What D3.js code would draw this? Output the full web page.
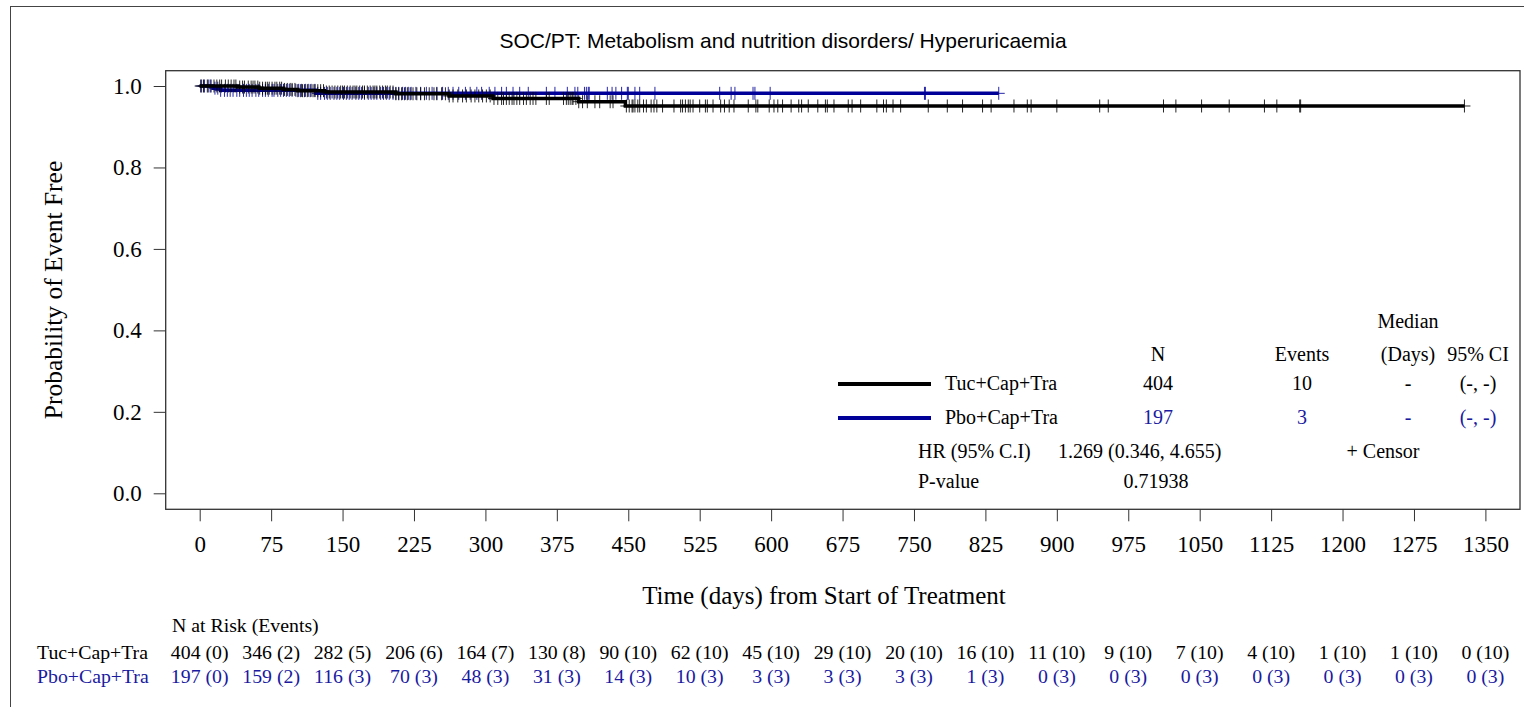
<!DOCTYPE html>
<html>
<head>
<meta charset="utf-8">
<script src="https://cdn.jsdelivr.net/npm/d3@7"></script>
<style>
  html, body { margin: 0; padding: 0; background: #fff; }
  svg { display: block; }
  .serif { font-family: "Liberation Serif", "Times New Roman", serif; }
</style>
</head>
<body>
<svg id="chart" width="1524" height="707"></svg>
<script>
// ---------------- DATA ----------------
const titleText = "SOC/PT: Metabolism and nutrition disorders/ Hyperuricaemia";
const groups = ["Tuc+Cap+Tra", "Pbo+Cap+Tra"];
const xTicks = [0, 75, 150, 225, 300, 375, 450, 525, 600, 675, 750, 825, 900, 975, 1050, 1125, 1200, 1275, 1350];
const yTicks = [0.0, 0.2, 0.4, 0.6, 0.8, 1.0];

// Kaplan-Meier step values
const tucEventDays = [40, 62, 88, 103, 131, 206, 262, 308, 398, 447];
const tucSurv      = [0.9974, 0.9946, 0.9916, 0.9885, 0.9852, 0.9809, 0.9756, 0.9695, 0.9614, 0.9509];
const tucLastDay   = 1328;

const pboEventDays = [14, 22, 122];
const pboSurv      = [0.9947, 0.9893, 0.9820];
const pboLastDay   = 839;

// censor times (estimated from the tick marks)
const tucCensorDays = [
  1, 4, 8, 11, 15, 18, 21, 23, 27, 30, 33, 36, 38, 42, 45, 47, 51, 54, 56, 58, 61, 63, 66, 69, 71, 73,
  76, 79, 81, 84, 86, 89, 92, 95, 97, 100, 103, 106, 108, 110, 113, 116, 119, 121, 124, 127, 130, 133, 136, 139, 142, 145, 148,
  150, 152, 155, 158, 161, 163, 165, 168, 171, 173, 176, 179, 182, 184, 186, 189, 192, 195, 197, 200, 203, 206, 209, 212, 215, 218, 221, 224,
  228, 232, 236, 241, 246, 249, 254, 258, 262, 266, 271, 276, 280, 285, 289, 293, 297,
  301, 305, 309, 313, 317, 319, 322, 325, 328, 330, 333, 336, 340, 343, 347, 350, 353, 364, 367,
  382, 385, 387, 389, 391, 392, 395, 398, 402, 407, 415, 420, 431, 434,
  448, 451, 454, 455, 457, 460, 462, 466, 469, 474, 477, 480, 486, 498, 505, 507, 510, 513, 515, 518,
  525, 531, 533, 539, 547, 551, 556, 561, 576, 584, 586, 598,
  603, 607, 612, 621, 629, 632, 639, 649, 657, 659, 666,
  681, 685, 694, 711, 718, 721, 728, 736,
  765, 785, 801, 822, 831, 855, 869, 873, 900, 945, 954, 1012, 1025, 1052, 1081, 1118, 1131, 1155, 1156, 1328
];
const pboCensorDays = [
  2, 5, 9, 12, 16, 19, 22, 26, 29, 32, 35, 39, 42, 46, 49, 52, 55, 59, 62, 66, 69, 72,
  76, 78, 82, 85, 88, 91, 94, 97, 101, 104, 107, 111, 114, 117, 121, 124, 127, 131, 134, 137, 141, 144, 147,
  151, 154, 157, 160, 164, 167, 170, 173, 177, 180, 183, 186, 190, 193, 196, 199, 203, 206, 209, 213, 216, 219, 222,
  227, 232, 238, 244, 249, 255, 261, 266, 272, 279, 284, 291, 296,
  304, 310, 317, 322, 329, 336, 345, 364, 373,
  386, 394, 397, 404, 406, 408, 409, 428, 433, 437, 443, 449,
  450, 457, 462, 478, 546, 558, 562, 581, 583, 599, 761, 762, 839
];

// Number at risk (events) table
const tucAtRisk = ["404 (0)", "346 (2)", "282 (5)", "206 (6)", "164 (7)", "130 (8)", "90 (10)", "62 (10)", "45 (10)", "29 (10)",
                   "20 (10)", "16 (10)", "11 (10)", "9 (10)", "7 (10)", "4 (10)", "1 (10)", "1 (10)", "0 (10)"];
const pboAtRisk = ["197 (0)", "159 (2)", "116 (3)", "70 (3)", "48 (3)", "31 (3)", "14 (3)", "10 (3)", "3 (3)", "3 (3)",
                   "3 (3)", "1 (3)", "0 (3)", "0 (3)", "0 (3)", "0 (3)", "0 (3)", "0 (3)", "0 (3)"];

// Legend / statistics table
const legendHeader1 = ["", "", "Median", ""];
const legendHeader2 = ["N", "Events", "(Days)", "95% CI"];
const tucStats = ["404", "10", "-", "(-, -)"];
const pboStats = ["197", "3", "-", "(-, -)"];
const hrLabel = "HR (95% C.I)";
const hrValue = "1.269 (0.346, 4.655)";
const pLabel = "P-value";
const pValue = "0.71938";
const censorLabel = "+ Censor";
const xTitle = "Time (days) from Start of Treatment";
const yTitle = "Probability of Event Free";
const atRiskTitle = "N at Risk (Events)";

// ---------------- DRAWING ----------------
const colors = { tuc: "#000000", pbo: "#000099", pboText: "#1a1aa0" };
const svg = d3.select("#chart");
const plot = { left: 165.7, top: 70.7, right: 1520, bottom: 509.3 };

const x = d3.scaleLinear().domain([0, 1350]).range([199.7, 1485.4]);
const y = d3.scaleLinear().domain([0, 1]).range([493.3, 86]);

// outer frame
svg.append("rect").attr("x", 10.5).attr("y", 6.5).attr("width", 1530).attr("height", 720)
  .attr("fill", "none").attr("stroke", "#444").attr("stroke-width", 1);

// title
svg.append("text").attr("x", 783).attr("y", 48).attr("text-anchor", "middle")
  .style("font-family", "'Liberation Sans', Arial, sans-serif").style("font-size", "21px")
  .text(titleText);

// plot frame
svg.append("rect").attr("x", plot.left).attr("y", plot.top)
  .attr("width", plot.right - plot.left).attr("height", plot.bottom - plot.top)
  .attr("fill", "none").attr("stroke", "#333").attr("stroke-width", 1.3);

// x axis
const xAxis = svg.append("g").attr("transform", `translate(0,${plot.bottom})`)
  .call(d3.axisBottom(x).tickValues(xTicks).tickSize(12).tickPadding(14).tickFormat(d3.format("d")));
xAxis.select(".domain").remove();
xAxis.selectAll("line").attr("stroke", "#333");
xAxis.selectAll("text").attr("class", "serif").attr("fill", "#000")
  .style("font-size", "23px").attr("dy", "0.71em");

// y axis
const yAxis = svg.append("g").attr("transform", `translate(${plot.left},0)`)
  .call(d3.axisLeft(y).tickValues(yTicks).tickSize(12).tickPadding(12).tickFormat(d3.format(".1f")));
yAxis.select(".domain").remove();
yAxis.selectAll("line").attr("stroke", "#333");
yAxis.selectAll("text").attr("class", "serif").attr("fill", "#000").style("font-size", "23px");

// axis titles
svg.append("text").attr("class", "serif").attr("x", 824).attr("y", 604).attr("text-anchor", "middle")
  .style("font-size", "25px").text(xTitle);
svg.append("text").attr("class", "serif").attr("transform", `translate(62,${(plot.top + plot.bottom) / 2}) rotate(-90)`)
  .attr("text-anchor", "middle").style("font-size", "25.5px").text(yTitle);

// KM curves
function stepPoints(days, surv, last) {
  const pts = [[0, 1]];
  days.forEach((d, i) => pts.push([d, surv[i]]));
  pts.push([last, surv[surv.length - 1]]);
  return pts;
}
function survAt(days, surv, t) {
  let s = 1;
  days.forEach((d, i) => { if (d <= t) s = surv[i]; });
  return s;
}
const line = d3.line().x(d => x(d[0])).y(d => y(d[1])).curve(d3.curveStepAfter);

const series = [
  { key: "pbo", days: pboEventDays, surv: pboSurv, last: pboLastDay, censor: pboCensorDays, color: colors.pbo },
  { key: "tuc", days: tucEventDays, surv: tucSurv, last: tucLastDay, censor: tucCensorDays, color: colors.tuc }
];
series.forEach(s => {
  const g = svg.append("g");
  g.append("path").datum(stepPoints(s.days, s.surv, s.last))
    .attr("d", line).attr("fill", "none").attr("stroke", s.color).attr("stroke-width", 3.5);
  g.selectAll("path.cens").data(s.censor).enter().append("path").attr("class", "cens")
    .attr("d", t => {
      const cx = x(t), cy = y(survAt(s.days, s.surv, t));
      return `M${cx - 6},${cy}H${cx + 6}M${cx},${cy - 6.5}V${cy + 6.5}`;
    })
    .attr("fill", "none").attr("stroke", s.color).attr("stroke-width", 1).attr("stroke-opacity", 0.85);
});

// legend / stats
const statCols = [1158, 1302, 1408, 1478];
function txt(xp, yp, t, anchor, color, size) {
  svg.append("text").attr("class", "serif").attr("x", xp).attr("y", yp)
    .attr("text-anchor", anchor || "start").attr("fill", color || "#000")
    .style("font-size", size || "20px").text(t);
}
legendHeader1.forEach((t, i) => { if (t) txt(statCols[i], 328, t, "middle"); });
legendHeader2.forEach((t, i) => txt(statCols[i], 361, t, "middle"));

const legendRows = [
  { name: groups[0], stats: tucStats, line: colors.tuc, text: "#000", yc: 384 },
  { name: groups[1], stats: pboStats, line: colors.pbo, text: colors.pboText, yc: 418 }
];
legendRows.forEach(r => {
  svg.append("line").attr("x1", 838).attr("x2", 931).attr("y1", r.yc).attr("y2", r.yc)
    .attr("stroke", r.line).attr("stroke-width", 4);
  txt(945, r.yc + 6, r.name, "start", "#000");
  r.stats.forEach((t, i) => txt(statCols[i], r.yc + 6, t, "middle", r.text));
});
txt(918, 458, hrLabel);
txt(1058, 458, hrValue);
txt(1383, 458, censorLabel, "middle");
txt(918, 488, pLabel);
txt(1156, 488, pValue, "middle");

// at-risk table
const trSize = "19.8px";
txt(172, 632, atRiskTitle, "start", "#000", trSize);
txt(37, 659, groups[0], "start", "#000", trSize);
txt(37, 683, groups[1], "start", colors.pboText, trSize);
xTicks.forEach((d, i) => {
  txt(x(d), 659, tucAtRisk[i], "middle", "#000", trSize);
  txt(x(d), 683, pboAtRisk[i], "middle", colors.pboText, trSize);
});
</script>
</body>
</html>
